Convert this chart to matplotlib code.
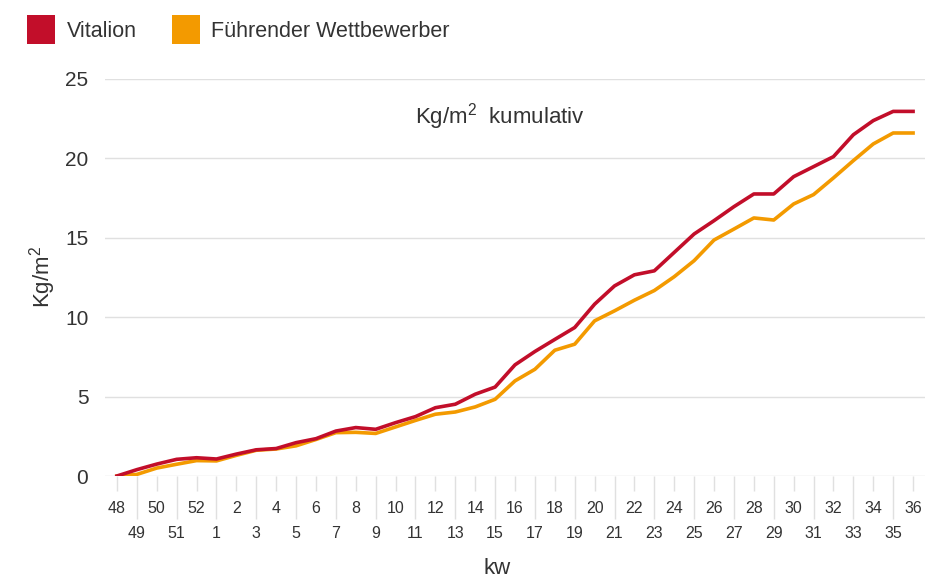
import matplotlib
matplotlib.use("Agg")
import matplotlib.pyplot as plt
from matplotlib.patches import Patch

plt.rcParams['font.family'] = ['Liberation Sans', 'DejaVu Sans']
plt.rcParams['mathtext.fontset'] = 'custom'
plt.rcParams['mathtext.rm'] = 'Liberation Sans'

# Kalenderwochen 48 bis 36
weeks = [48, 49, 50, 51, 52] + list(range(1, 37))

vitalion = [0.0, 0.4, 0.75, 1.05, 1.15, 1.07, 1.38, 1.65, 1.73, 2.1,
            2.35, 2.83, 3.05, 2.94, 3.36, 3.74, 4.3, 4.52, 5.15, 5.6,
            7.0, 7.84, 8.6, 9.35, 10.82, 11.97, 12.67, 12.92, 14.08, 15.24,
            16.08, 16.96, 17.76, 17.76, 18.85, 19.48, 20.11, 21.49, 22.38, 22.96,
            22.96]

wettbewerber = [0.0, 0.1, 0.5, 0.74, 0.97, 0.95, 1.3, 1.62, 1.7, 1.9,
                2.3, 2.73, 2.75, 2.68, 3.09, 3.5, 3.89, 4.03, 4.35, 4.83,
                5.99, 6.72, 7.92, 8.3, 9.77, 10.4, 11.07, 11.68, 12.55, 13.56,
                14.86, 15.55, 16.25, 16.12, 17.13, 17.72, 18.77, 19.86, 20.91, 21.6,
                21.6]

red = '#c20e2a'
orange = '#f39a00'
grey_text = '#333333'
grid_col = '#e0e0e0'

fig = plt.figure(figsize=(9.32, 5.78), dpi=100)
ax = fig.add_axes([105 / 932, 1 - 476 / 578, 820 / 932, 397 / 578])

x = list(range(len(weeks)))
ax.plot(x, vitalion, color=red, lw=2.6, zorder=3)
ax.plot(x, wettbewerber, color=orange, lw=2.6, zorder=2)

ax.set_ylim(0, 25)
ax.set_xlim(-0.6, len(weeks) - 0.4)
ax.set_yticks([0, 5, 10, 15, 20, 25])
ax.yaxis.grid(True, color=grid_col, lw=1)
ax.set_axisbelow(True)
for s in ax.spines.values():
    s.set_visible(False)
ax.tick_params(axis='y', length=0, pad=12, labelsize=15, labelcolor=grey_text)

# Wochen abwechselnd in zwei Reihen
ax.set_xticks(x[0::2])
ax.set_xticklabels([str(w) for w in weeks[0::2]])
ax.set_xticks(x[1::2], minor=True)
ax.set_xticklabels([str(w) for w in weeks[1::2]], minor=True)
ax.tick_params(axis='x', which='major', length=11, width=1, color=grid_col,
               pad=7, labelsize=11.5, labelcolor=grey_text)
ax.tick_params(axis='x', which='minor', length=31, width=1, color=grid_col,
               pad=5, labelsize=11.5, labelcolor=grey_text)

fig.text(43 / 932, 1 - 277 / 578, 'Kg/m$^2$', fontsize=16, color=grey_text,
         rotation=90, ha='center', va='center')
fig.text(497 / 932, 1 - 569 / 578, 'kw', fontsize=16, color=grey_text,
         ha='center', va='center')

fig.text(500 / 932, 1 - 117 / 578, 'Kg/m$^2$  kumulativ', fontsize=16,
         color=grey_text, ha='center', va='center')

handles = [Patch(facecolor=red, edgecolor='none', label='Vitalion'),
           Patch(facecolor=orange, edgecolor='none', label='Führender Wettbewerber')]
fig.legend(handles=handles, loc='upper left', bbox_to_anchor=(8 / 932, 1 + 4 / 578),
           ncol=2, frameon=False, fontsize=15.5, handlelength=1.3, handleheight=1.65,
           handletextpad=0.55, columnspacing=1.6, labelcolor=grey_text)

fig.savefig('out.png', dpi=100)
